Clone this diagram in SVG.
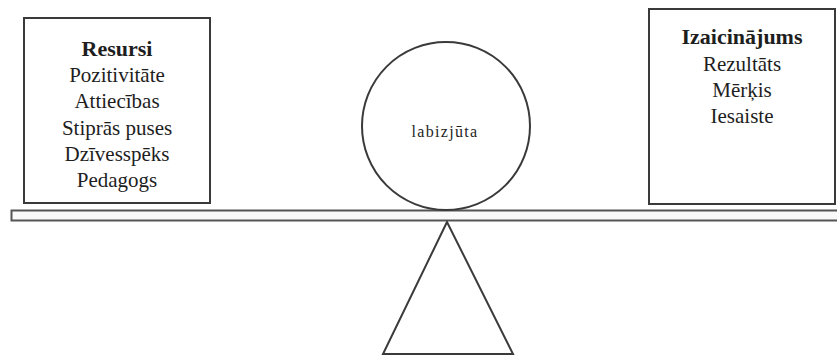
<svg xmlns="http://www.w3.org/2000/svg" width="837" height="356" viewBox="0 0 837 356">
<style>
.box{fill:#fff;stroke:#3a3a3a;stroke-width:2}
.t{font-family:"Liberation Serif","DejaVu Serif",serif;font-size:21px;fill:#1e1e1e;text-anchor:middle}
.b{font-weight:bold;font-size:22px}
.c{font-size:16px;letter-spacing:1.3px}
</style>
<rect width="837" height="356" fill="#fff"/>
<g id="connectors">
<rect x="11.5" y="210.5" width="830" height="10" fill="#fafafa" stroke="#555" stroke-width="2"/>
<polygon points="447,222 383,354 513,354" fill="#fff" stroke="#3a3a3a" stroke-width="2"/>
</g>
<g id="resursi">
<rect class="box" x="24" y="18" width="186" height="185"/>
<text class="t b" x="117" y="56">Resursi</text>
<text class="t" x="117" y="82">Pozitivitāte</text>
<text class="t" x="117" y="108">Attiecības</text>
<text class="t" x="117" y="135">Stiprās puses</text>
<text class="t" x="117" y="161">Dzīvesspēks</text>
<text class="t" x="117" y="187">Pedagogs</text>
</g>
<g id="izaicinajums">
<rect class="box" x="649" y="9" width="186" height="195"/>
<text class="t b" x="742" y="44">Izaicinājums</text>
<text class="t" x="742" y="71">Rezultāts</text>
<text class="t" x="742" y="97">Mērķis</text>
<text class="t" x="742" y="123">Iesaiste</text>
</g>
<g id="labizjuta">
<circle cx="446" cy="126" r="84" fill="#fff" stroke="#3a3a3a" stroke-width="2"/>
<text class="t c" x="445" y="137">labizjūta</text>
</g>
</svg>
